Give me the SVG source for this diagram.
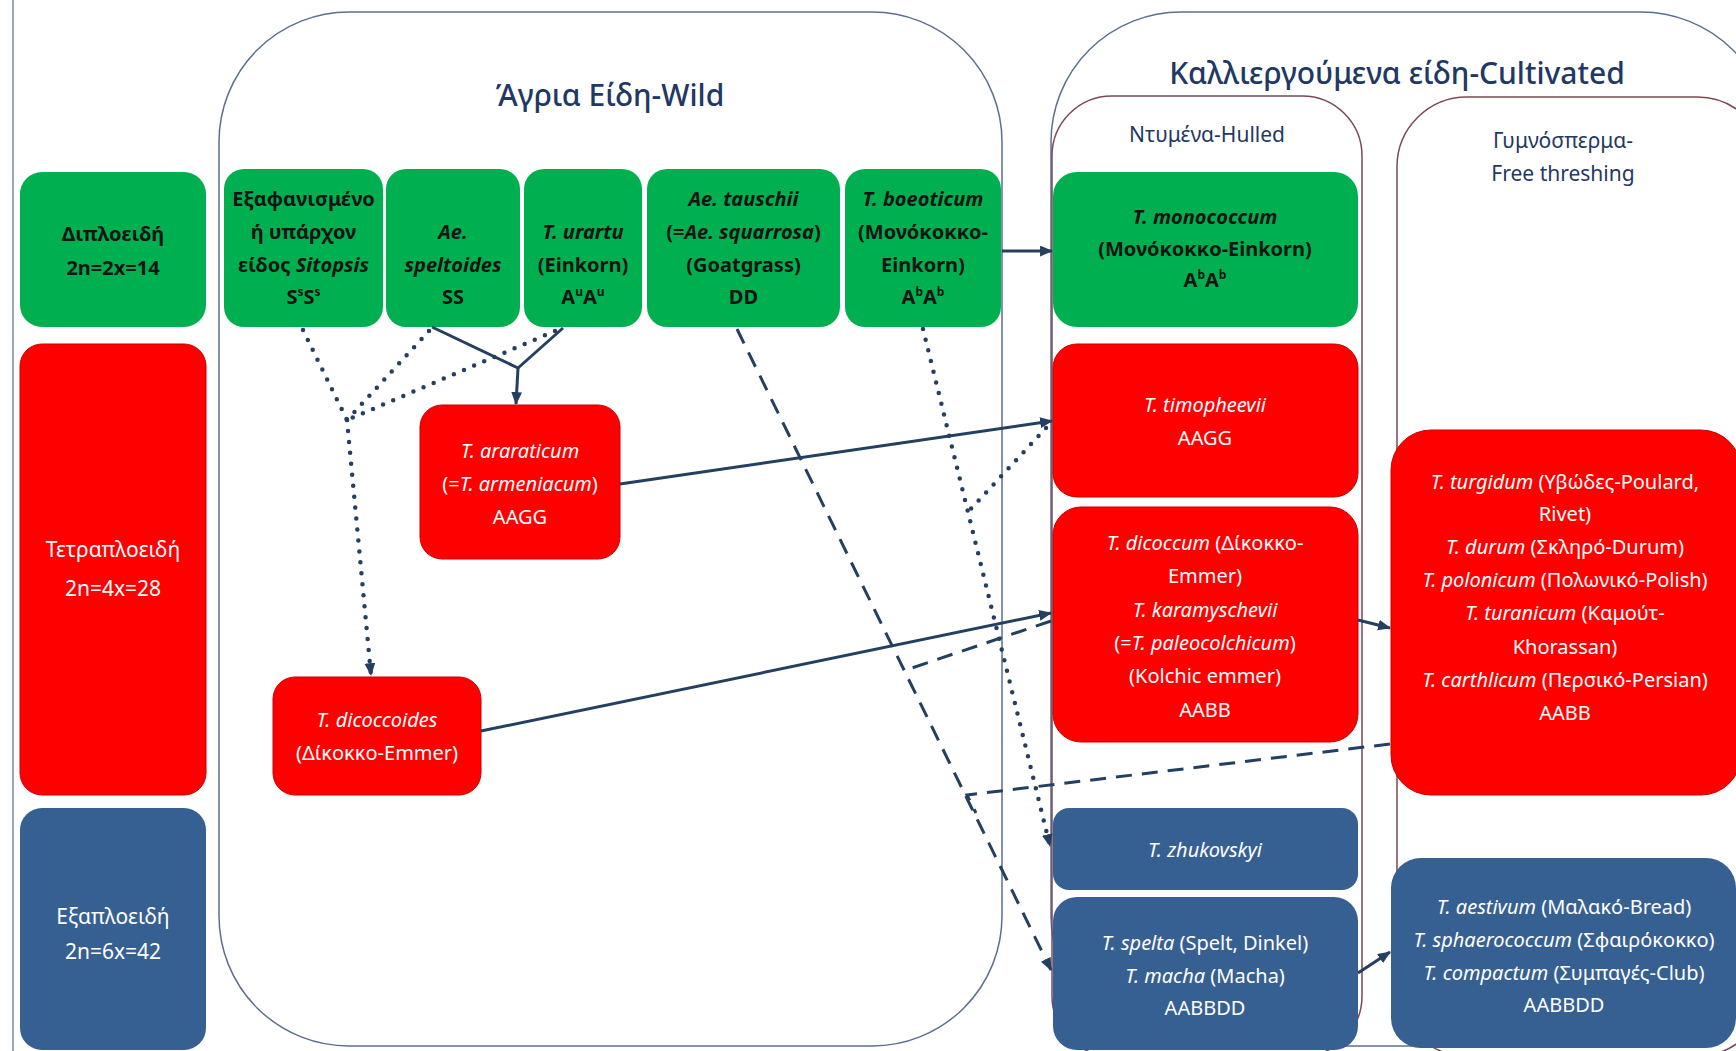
<svg xmlns="http://www.w3.org/2000/svg" width="1736" height="1051" viewBox="0 0 1736 1051">
<defs>
<style>
.bg{fill:#ffffff}
.g{fill:#00B050}
.r{fill:#FF0000;stroke:#C80000;stroke-width:1}
.b{fill:#376092}
.t{font-family:"Noto Sans","Open Sans","DejaVu Sans",sans-serif;text-anchor:middle}
.tk{font-size:20px;font-weight:bold;fill:#141414}
.tw{font-size:20px;fill:#ffffff}
.lv{font-size:21px}
.i{font-style:italic}
.sup{font-size:12px}
.title{font-size:30px;font-weight:500;fill:#1F3864}
.sublbl{font-size:21px;fill:#1F3864}
.cont{fill:none;stroke:#5B7090;stroke-width:1.5}
.sub{fill:none;stroke:#7A4A55;stroke-width:1.5}
.c{fill:none;stroke:#243F60;stroke-width:3}
.dot{stroke-width:4.5;stroke-dasharray:0 11;stroke-linecap:round}
.dash{stroke-dasharray:16 10}
</style>
<marker id="ah" viewBox="0 0 12 10" refX="11" refY="5" markerWidth="13" markerHeight="11" markerUnits="userSpaceOnUse" orient="auto"><path d="M0,0 L12,5 L0,10 z" fill="#243F60"/></marker>
</defs>
<rect class="bg" x="0" y="0" width="1736" height="1051"/>
<line x1="13" y1="0" x2="13" y2="1051" stroke="#7A8AA0" stroke-width="1.5"/>

<g id="containers">
<rect id="wild" class="cont" x="219" y="12" width="783" height="1034" rx="130"/>
<rect id="cultivated" class="cont" x="1051" y="12" width="720" height="1034" rx="130"/>
<rect id="hulled" class="sub" x="1052" y="96" width="310" height="960" rx="60"/>
<rect id="freethreshing" class="sub" x="1397" y="97" width="370" height="959" rx="70"/>
<text class="t title" x="610" y="106">Άγρια Είδη-Wild</text>
<text class="t title" x="1397" y="84">Καλλιεργούμενα είδη-Cultivated</text>
<text class="t sublbl" x="1207" y="142">Ντυμένα-Hulled</text>
<text class="t sublbl" x="1563" y="148">Γυμνόσπερμα-</text>
<text class="t sublbl" x="1563" y="181">Free threshing</text>
</g>

<g id="lvl2"><rect class="g" x="20" y="172" width="186" height="155" rx="22"/>
<text class="t tk"><tspan x="113" y="241">Διπλοειδή</tspan><tspan x="113" y="275">2n=2x=14</tspan></text></g>
<g id="lvl4"><rect class="r" x="20" y="344" width="186" height="451" rx="22"/>
<text class="t tw lv"><tspan x="113" y="557">Τετραπλοειδή</tspan><tspan x="113" y="596">2n=4x=28</tspan></text></g>
<g id="lvl6"><rect class="b" x="20" y="808" width="186" height="242" rx="22"/>
<text class="t tw lv"><tspan x="113" y="924">Εξαπλοειδή</tspan><tspan x="113" y="959">2n=6x=42</tspan></text></g>

<g id="n_sitopsis"><rect class="g" x="224" y="169" width="159" height="158" rx="20"/>
<text class="t tk"><tspan x="303.5" y="206">Εξαφανισμένο</tspan><tspan x="303.5" y="239">ή υπάρχον</tspan><tspan x="303.5" y="272">είδος <tspan class="i">Sitopsis</tspan></tspan><tspan x="303.5" y="304">S<tspan class="sup" dy="-8">s</tspan><tspan dy="8">S</tspan><tspan class="sup" dy="-8">s</tspan></tspan></text></g>
<g id="n_speltoides"><rect class="g" x="386" y="169" width="134" height="158" rx="20"/>
<text class="t tk"><tspan class="i" x="453" y="239">Ae.</tspan><tspan class="i" x="453" y="272">speltoides</tspan><tspan x="453" y="304">SS</tspan></text></g>
<g id="n_urartu"><rect class="g" x="524" y="169" width="118" height="158" rx="20"/>
<text class="t tk"><tspan class="i" x="583" y="239">T. urartu</tspan><tspan x="583" y="272">(Einkorn)</tspan><tspan x="583" y="304">A<tspan class="sup" dy="-8">u</tspan><tspan dy="8">A</tspan><tspan class="sup" dy="-8">u</tspan></tspan></text></g>
<g id="n_tauschii"><rect class="g" x="647" y="169" width="193" height="158" rx="20"/>
<text class="t tk"><tspan class="i" x="743.5" y="206">Ae. tauschii</tspan><tspan x="743.5" y="239">(=<tspan class="i">Ae. squarrosa</tspan>)</tspan><tspan x="743.5" y="272">(Goatgrass)</tspan><tspan x="743.5" y="304">DD</tspan></text></g>
<g id="n_boeoticum"><rect class="g" x="845" y="169" width="156" height="158" rx="20"/>
<text class="t tk"><tspan class="i" x="923" y="206">T. boeoticum</tspan><tspan x="923" y="239">(Μονόκοκκο-</tspan><tspan x="923" y="272">Einkorn)</tspan><tspan x="923" y="304">A<tspan class="sup" dy="-8">b</tspan><tspan dy="8">A</tspan><tspan class="sup" dy="-8">b</tspan></tspan></text></g>

<g id="n_araraticum"><rect class="r" x="420" y="405" width="200" height="154" rx="22"/>
<text class="t tw"><tspan class="i" x="520" y="458">T. araraticum</tspan><tspan x="520" y="491">(=<tspan class="i">T. armeniacum</tspan>)</tspan><tspan x="520" y="524">AAGG</tspan></text></g>
<g id="n_dicoccoides"><rect class="r" x="273" y="677" width="208" height="118" rx="22"/>
<text class="t tw"><tspan class="i" x="377" y="727">T. dicoccoides</tspan><tspan x="377" y="760">(Δίκοκκο-Emmer)</tspan></text></g>

<g id="n_monococcum"><rect class="g" x="1053" y="172" width="305" height="155" rx="24"/>
<text class="t tk"><tspan class="i" x="1205" y="224">T. monococcum</tspan><tspan x="1205" y="256">(Μονόκοκκο-Einkorn)</tspan><tspan x="1205" y="287">A<tspan class="sup" dy="-8">b</tspan><tspan dy="8">A</tspan><tspan class="sup" dy="-8">b</tspan></tspan></text></g>
<g id="n_timopheevii"><rect class="r" x="1053" y="344" width="305" height="153" rx="24"/>
<text class="t tw"><tspan class="i" x="1205" y="412">T. timopheevii</tspan><tspan x="1205" y="445">AAGG</tspan></text></g>
<g id="n_dicoccum"><rect class="r" x="1053" y="507" width="305" height="235" rx="28"/>
<text class="t tw"><tspan x="1205" y="550"><tspan class="i">T. dicoccum</tspan> (Δίκοκκο-</tspan><tspan x="1205" y="583">Emmer)</tspan><tspan class="i" x="1205" y="617">T. karamyschevii</tspan><tspan x="1205" y="650">(=<tspan class="i">T. paleocolchicum</tspan>)</tspan><tspan x="1205" y="683">(Kolchic emmer)</tspan><tspan x="1205" y="717">AABB</tspan></text></g>
<g id="n_zhukovskyi"><rect class="b" x="1053" y="808" width="305" height="82" rx="16"/>
<text class="t tw"><tspan class="i" x="1205" y="857">T. zhukovskyi</tspan></text></g>
<g id="n_spelta"><rect class="b" x="1053" y="897" width="305" height="153" rx="24"/>
<text class="t tw"><tspan x="1205" y="950"><tspan class="i">T. spelta</tspan> (Spelt, Dinkel)</tspan><tspan x="1205" y="983"><tspan class="i">T. macha</tspan> (Macha)</tspan><tspan x="1205" y="1015">AABBDD</tspan></text></g>

<g id="n_durum"><rect class="r" x="1391" y="430" width="350" height="365" rx="40"/>
<text class="t tw"><tspan x="1565" y="489"><tspan class="i">T. turgidum</tspan> (Υβώδες-Poulard,</tspan><tspan x="1565" y="521">Rivet)</tspan><tspan x="1565" y="554"><tspan class="i">T. durum</tspan> (Σκληρό-Durum)</tspan><tspan x="1565" y="587"><tspan class="i">T. polonicum</tspan> (Πολωνικό-Polish)</tspan><tspan x="1565" y="620"><tspan class="i">T. turanicum</tspan> (Καμούτ-</tspan><tspan x="1565" y="654">Khorassan)</tspan><tspan x="1565" y="687"><tspan class="i">T. carthlicum</tspan> (Περσικό-Persian)</tspan><tspan x="1565" y="720">AABB</tspan></text></g>
<g id="n_aestivum"><rect class="b" x="1391" y="858" width="345" height="190" rx="30"/>
<text class="t tw"><tspan x="1564" y="914"><tspan class="i">T. aestivum</tspan> (Μαλακό-Bread)</tspan><tspan x="1564" y="947"><tspan class="i">T. sphaerococcum</tspan> (Σφαιρόκοκκο)</tspan><tspan x="1564" y="980"><tspan class="i">T. compactum</tspan> (Συμπαγές-Club)</tspan><tspan x="1564" y="1012">AABBDD</tspan></text></g>

<g id="connectors">
<path class="c" d="M432,327 L518,368 M563,328 L518,368"/>
<path class="c" d="M518,368 L516,404" marker-end="url(#ah)"/>
<path class="c dot" d="M303,330 L347,420 M429,331 L347,420 M555,331 L347,420"/>
<path class="c dot" d="M347,420 L371,675" marker-end="url(#ah)"/>
<path class="c" d="M1002,251 L1052,251" marker-end="url(#ah)"/>
<path class="c" d="M620,484 L1052,421" marker-end="url(#ah)"/>
<path class="c" d="M481,731 L1051,613" marker-end="url(#ah)"/>
<path class="c dash" d="M737,329 L1051,970" marker-end="url(#ah)"/>
<path class="c dash" d="M1051,621 L906,670"/>
<path class="c dash" d="M1390,744 L967,795 L976,813"/>
<path class="c dot" d="M923,329 L1050,846" marker-end="url(#ah)"/>
<path class="c dot" d="M1046,428 L968,512"/>
<path class="c" d="M1358,620 L1390,628" marker-end="url(#ah)"/>
<path class="c" d="M1358,973 L1390,952" marker-end="url(#ah)"/>
</g>
</svg>
